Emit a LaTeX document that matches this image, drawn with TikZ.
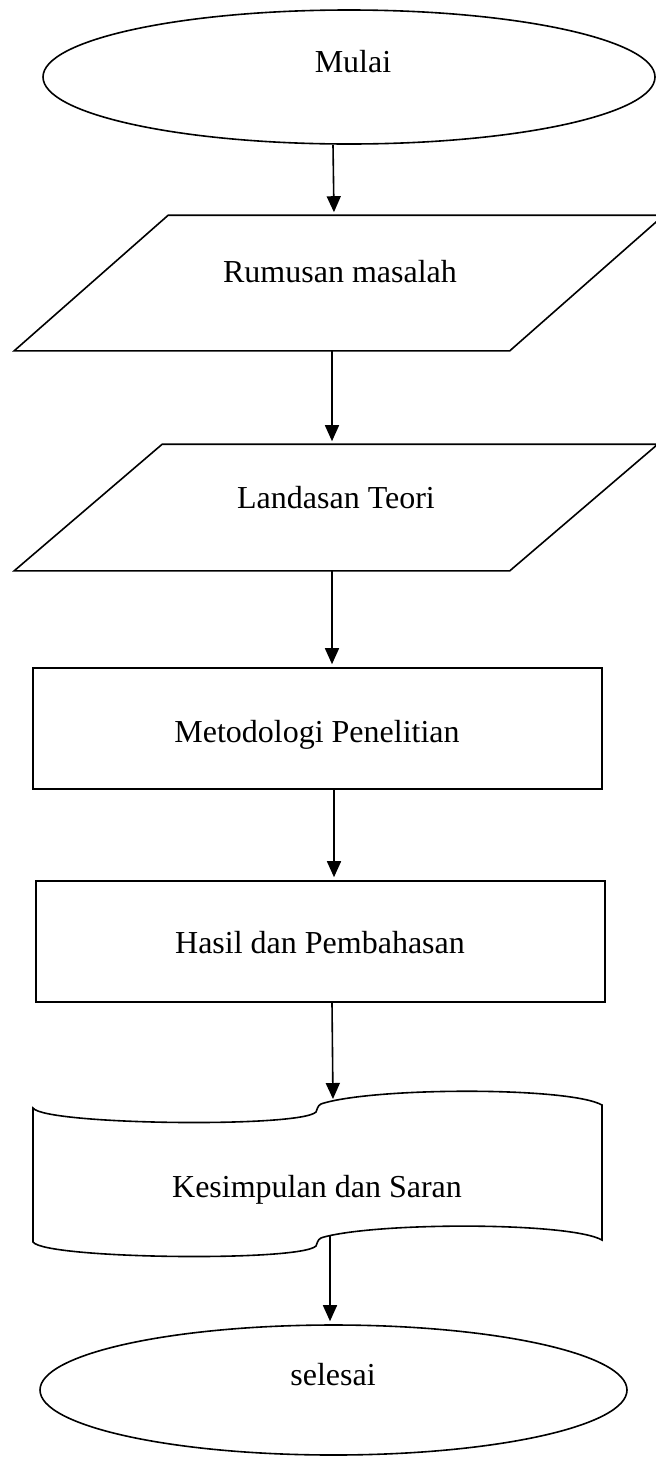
\documentclass[tikz,border=0pt]{standalone}
\usepackage{fontspec}
\setmainfont{Liberation Serif}
\usetikzlibrary{arrows.meta,shapes.geometric}

\begin{document}
\begin{tikzpicture}[x=0.5pt, y=-0.5pt, line width=0.8pt, >={Triangle[length=8pt,width=7pt]},
  txt/.style = {font=\fontsize{16}{19}\selectfont, inner sep=0pt, anchor=base},
  oval/.style = {draw, ellipse, inner sep=0pt},
  frame/.style = {rectangle, inner sep=0pt},
  proc/.style = {draw, rectangle, inner sep=0pt},
  flow/.style = {->, shorten >=1.5pt}]

\useasboundingbox (0,0) rectangle (656,1457);

% Shapes
\node[oval, minimum width=306pt, minimum height=67pt] (start) at (349,77) {};
\node[frame, minimum width=324pt, minimum height=67pt] (rumusan) at (339,283) {};
\draw ([xshift=77pt]rumusan.north west) -- (rumusan.north east) -- ([xshift=-77pt]rumusan.south east) -- (rumusan.south west) -- cycle;
\node[frame, minimum width=321pt, minimum height=62.5pt] (landasan) at (336,507.5) {};
\draw ([xshift=74pt]landasan.north west) -- (landasan.north east) -- ([xshift=-74pt]landasan.south east) -- (landasan.south west) -- cycle;
\node[proc, minimum width=284.5pt, minimum height=60.5pt] (metode) at (317.5,728.5) {};
\node[proc, minimum width=284.5pt, minimum height=60.5pt] (hasil) at (320.5,941.5) {};
\node[oval, minimum width=293.5pt, minimum height=65pt] (selesai) at (333.5,1390) {};

% Tape (Kesimpulan dan Saran)
\draw (33,1108) .. controls (45,1125) and (300,1128) .. (316,1112)
  .. controls (318,1106) and (319,1104) .. (324,1103)
  .. controls (380,1087) and (570,1087) .. (602,1105)
  -- (602,1240)
  .. controls (570,1222) and (380,1222) .. (324,1237)
  .. controls (319,1238) and (318,1240) .. (316,1246)
  .. controls (300,1262) and (45,1259) .. (33,1242) -- cycle;
\coordinate (simtop) at (333,1102);
\coordinate (simbot) at (330,1236);

% Texts
\node[txt] (tstart) at (353,72) {Mulai};
\node[txt] (trumusan) at (340,282) {Rumusan masalah};
\node[txt] (tlandasan) at (336,508) {Landasan Teori};
\node[txt] (tmetode) at (317,742) {Metodologi Penelitian};
\node[txt] (thasil) at (320,953) {Hasil dan Pembahasan};
\node[txt] (tsimpulan) at (317,1197) {Kesimpulan dan Saran};
\node[txt] (tselesai) at (333,1385) {selesai};

% Arrows
\draw[flow] ([xshift=-8pt]start.south) -- ([xshift=-2.5pt]rumusan.north);
\draw[flow] ([xshift=-3.5pt]rumusan.south) -- ([xshift=-2pt]landasan.north);
\draw[flow] ([xshift=-2pt]landasan.south) -- ([xshift=7.25pt]metode.north);
\draw[flow] ([xshift=8.25pt]metode.south) -- ([xshift=6.75pt]hasil.north);
\draw[flow] ([xshift=5.75pt]hasil.south) -- (simtop);
\draw[flow] (simbot) -- ([xshift=-1.75pt]selesai.north);

\end{tikzpicture}
\end{document}
